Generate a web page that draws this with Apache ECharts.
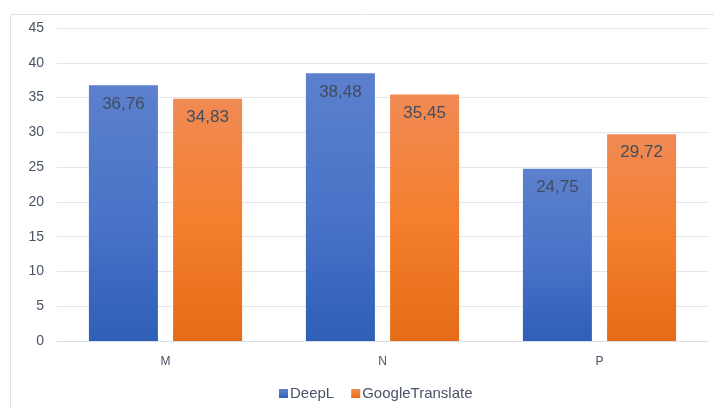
<!DOCTYPE html>
<html>
<head>
<meta charset="utf-8">
<script src="https://cdn.jsdelivr.net/npm/echarts@6/dist/echarts.min.js"></script>
<style>html,body{margin:0;padding:0;background:#fff;}#c{width:714px;height:409px;}</style>
</head>
<body>
<div id="c"></div>
<script>
const categories = ['M', 'N', 'P'];
const deeplValues = [36.76, 38.48, 24.75];
const googleValues = [34.83, 35.45, 29.72];
const seriesNames = ['DeepL', 'GoogleTranslate'];

const chart = echarts.init(document.getElementById('c'));
const font = 'Liberation Sans, Arial, sans-serif';
function grad(top, mid, bot) {
  return new echarts.graphic.LinearGradient(0, 0, 0, 1, [
    {offset: 0, color: top}, {offset: 0.5, color: mid}, {offset: 1, color: bot}
  ]);
}
const fmt = p => p.value.toFixed(2).replace('.', ',');
chart.setOption({
  animation: false,
  textStyle: {fontFamily: font},
  graphic: [{
    type: 'rect', shape: {x: 10.5, y: 14.5, width: 720, height: 420},
    style: {fill: 'none', stroke: '#dfe3ea', lineWidth: 1}, z: -1
  }],
  grid: {left: 57, right: 6, top: 28, bottom: 68},
  legend: {
    bottom: 3, left: 274, itemWidth: 9, itemHeight: 9, itemGap: 17,
    icon: 'rect',
    textStyle: {fontSize: 15, color: '#4a5366', fontFamily: font, padding: [0, 0, 0, -3]},
    data: seriesNames
  },
  xAxis: {
    type: 'category', data: categories,
    axisLine: {lineStyle: {color: '#d9dde4'}},
    axisTick: {show: false},
    axisLabel: {fontSize: 12, color: '#4a5366', margin: 15}
  },
  yAxis: {
    type: 'value', min: 0, max: 45, interval: 5,
    axisLine: {show: false}, axisTick: {show: false},
    splitLine: {lineStyle: {color: '#e3e6ec'}},
    axisLabel: {fontSize: 14, color: '#4a5366', margin: 13}
  },
  series: [{
    name: seriesNames[0], type: 'bar', data: deeplValues,
    barWidth: 69, barGap: '22%',
    itemStyle: {color: grad('#5c80cd', '#4a74c8', '#2f5fb8')},
    label: {show: true, position: 'insideTop', distance: 10, formatter: fmt,
      fontSize: 17, color: '#424c5e'}
  }, {
    name: seriesNames[1], type: 'bar', data: googleValues,
    barWidth: 69,
    itemStyle: {color: grad('#f08a54', '#f47f2e', '#e56b17')},
    label: {show: true, position: 'insideTop', distance: 10, formatter: fmt,
      fontSize: 17, color: '#424c5e'}
  }]
});
</script>
</body>
</html>
